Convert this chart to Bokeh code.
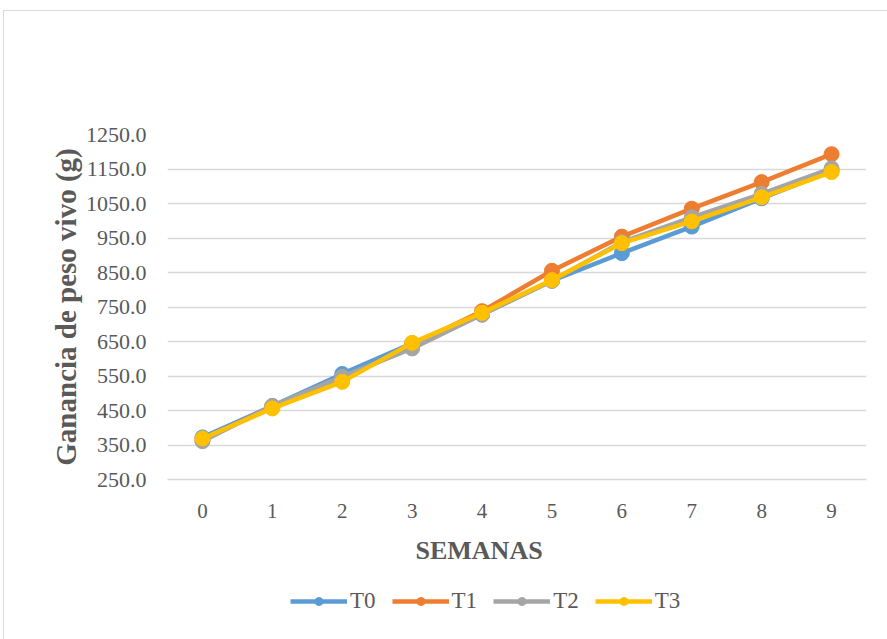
from bokeh.plotting import figure
from bokeh.layouts import column
from bokeh.models import Range1d, Legend, LegendItem, FixedTicker, NumeralTickFormatter, Title
from bokeh.embed import file_html
from bokeh.resources import INLINE

semanas = [0, 1, 2, 3, 4, 5, 6, 7, 8, 9]
T0 = [372, 463, 556, 645, 728, 826, 906, 983, 1065, 1145]
T1 = [365, 462, 540, 640, 738, 855, 954, 1035, 1112, 1193]
T2 = [361, 463, 548, 630, 728, 826, 938, 1010, 1078, 1152]
T3 = [369, 456, 533, 646, 733, 828, 935, 998, 1068, 1141]
series = [("T0", T0, "#5B9BD5"), ("T1", T1, "#ED7D31"), ("T2", T2, "#A5A5A5"), ("T3", T3, "#FFC000")]
y_ticks = [250, 350, 450, 550, 650, 750, 850, 950, 1050, 1150, 1250]

FONT = "Liberation Serif"
TXT = "#595959"

# main chart; the column holding it starts at (4, 11) in the window
p = figure(width=883, height=566, output_backend="svg", toolbar_location=None,
           x_range=Range1d(-0.5, 9.5), y_range=Range1d(250, 1250),
           min_border_left=163, min_border_right=21, min_border_top=123, min_border_bottom=98)
p.outline_line_color = None
p.background_fill_color = "white"
p.border_fill_color = "white"

p.xgrid.grid_line_color = None
p.ygrid.grid_line_color = "#d9d9d9"
p.ygrid.grid_line_width = 1.5
p.yaxis.ticker = FixedTicker(ticks=y_ticks)
p.yaxis.formatter = NumeralTickFormatter(format="0.0")
p.xaxis.ticker = FixedTicker(ticks=semanas)

for ax in (p.xaxis[0], p.yaxis[0]):
    ax.axis_line_color = None
    ax.major_tick_line_color = None
    ax.minor_tick_line_color = None
    ax.major_label_text_font = FONT
    ax.major_label_text_font_size = "21px"
    ax.major_label_text_color = TXT
    ax.axis_label_text_font = FONT
    ax.axis_label_text_font_style = "bold"
    ax.axis_label_text_color = TXT

p.yaxis.major_label_text_font_size = "22px"
p.yaxis.axis_label_text_font_size = "29px"
p.xaxis.axis_line_color = "#d9d9d9"
p.xaxis.axis_line_width = 1.5
p.xaxis.major_label_standoff = 18
p.yaxis.major_label_standoff = 15
p.yaxis.axis_label = "Ganancia de peso vivo (g)"
p.yaxis.axis_label_standoff = 1

# x-axis title, centred on the whole chart area as in the reference
x_title = Title(text="SEMANAS", align="left", offset=248, standoff=26,
                text_font=FONT, text_font_size="26px", text_font_style="bold", text_color=TXT)
p.add_layout(x_title, "below")

for name, ys, col in series:
    p.line(semanas, ys, line_color=col, line_width=4.5)
    p.scatter(semanas, ys, size=15, fill_color=col, line_color=col)

# legend strip below the chart (its frame is aligned with the chart's frame)
q = figure(width=883, height=62, output_backend="svg", toolbar_location=None,
           x_range=Range1d(100, 101), y_range=Range1d(100, 101),
           x_axis_type=None, y_axis_type=None, min_border=0)
q.outline_line_color = None
q.xgrid.grid_line_color = None
q.ygrid.grid_line_color = None
items = []
for name, ys, col in series:
    r1 = q.line(semanas, ys, line_color=col, line_width=4.5)
    r2 = q.scatter(semanas, ys, size=13, fill_color=col, line_color=col)
    items.append(LegendItem(label=name, renderers=[r1, r2]))
legend = Legend(items=items, orientation="horizontal", location=(123, 25),
                label_text_font=FONT, label_text_font_size="23px", label_text_color=TXT,
                glyph_width=57, glyph_height=20, spacing=16, label_standoff=3,
                border_line_color=None, background_fill_alpha=0, padding=0, margin=0)
q.add_layout(legend, "center")

layout = column(p, q, spacing=0,
                styles={"margin-left": "3px", "margin-top": "10px",
                        "border-left": "1.5px solid #d9d9d9", "border-top": "1.5px solid #d9d9d9"})

open("out.html", "w").write(file_html(layout, INLINE))
